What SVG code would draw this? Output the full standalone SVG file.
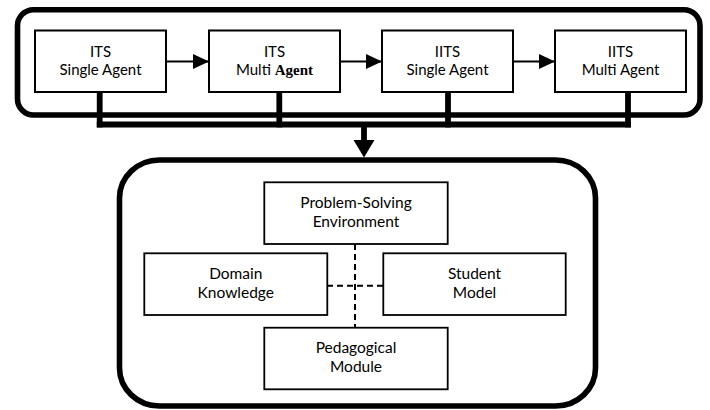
<svg xmlns="http://www.w3.org/2000/svg" width="710" height="410" viewBox="0 0 710 410">
  <defs>
    <marker id="arrow" markerUnits="userSpaceOnUse" markerWidth="16" markerHeight="16" viewBox="0 0 16 16" refX="16" refY="8" orient="auto">
      <path d="M0,0.5 L16,8 L0,15.5 Z" fill="#000"/>
    </marker>
  </defs>
  <style>
    .frame { fill: none; stroke: #000; stroke-width: 5.6; }
    .box { fill: #fff; stroke: #000; stroke-width: 2; }
    .ibox { fill: #fff; stroke: #000; stroke-width: 1.8; }
    .label { font-family: Lato, "Open Sans", sans-serif; font-size: 15px; fill: #000; text-anchor: middle; }
    .wide { font-size: 15.5px; }
    .bold { font-family: "Liberation Serif", "DejaVu Serif", serif; font-weight: bold; }
    .flow { stroke: #000; stroke-width: 2; fill: none; }
    .bus { stroke: #000; stroke-width: 5.8; fill: none; }
    .dash { stroke: #000; stroke-width: 2; stroke-dasharray: 6 4; fill: none; }
  </style>

  <rect fill="#fff" x="0" y="0" width="710" height="410"/>

  <!-- upper container -->
  <rect id="its-frame" class="frame" x="17.5" y="9.7" width="682.5" height="105.3" rx="16" ry="16"/>

  <!-- lower container -->
  <rect id="component-frame" class="frame" x="119.5" y="160" width="476" height="246" rx="40" ry="38"/>

  <!-- connectors -->
  <g id="connectors">
    <line class="flow" x1="166" y1="61.5" x2="209" y2="61.5" marker-end="url(#arrow)"/>
    <line class="flow" x1="340" y1="61.5" x2="382" y2="61.5" marker-end="url(#arrow)"/>
    <line class="flow" x1="513" y1="61.5" x2="555" y2="61.5" marker-end="url(#arrow)"/>
    <!-- bus collecting every generation -->
    <line class="bus" x1="99.7" y1="92" x2="99.7" y2="127.4"/>
    <line class="bus" x1="279.3" y1="92" x2="279.3" y2="127.4"/>
    <line class="bus" x1="448" y1="92" x2="448" y2="127.4"/>
    <line class="bus" x1="628" y1="92" x2="628" y2="127.4"/>
    <line class="bus" x1="96.8" y1="124.5" x2="630.9" y2="124.5"/>
    <line class="bus" x1="364" y1="124.5" x2="364" y2="142"/>
    <path d="M353.5,140 L374.5,140 L364,157.5 Z" fill="#000"/>
    <!-- dashed links between components -->
    <line class="dash" x1="355" y1="244" x2="355" y2="328"/>
    <line class="dash" x1="327" y1="285.7" x2="383" y2="285.7"/>
  </g>

  <!-- top row -->
  <g id="its-single">
    <rect class="box" x="35" y="30.5" width="131" height="61.5"/>
    <text class="label" x="100.5" y="57.3">ITS</text>
    <text class="label" x="100.5" y="75.3">Single Agent</text>
  </g>
  <g id="its-multi">
    <rect class="box" x="209" y="30.5" width="131" height="61.5"/>
    <text class="label" x="274.5" y="57.3">ITS</text>
    <text class="label" x="274.5" y="75.3">Multi <tspan class="bold">Agent</tspan></text>
  </g>
  <g id="iits-single">
    <rect class="box" x="382" y="30.5" width="131" height="61.5"/>
    <text class="label" x="447.5" y="57.3">IITS</text>
    <text class="label" x="447.5" y="75.3">Single Agent</text>
  </g>
  <g id="iits-multi">
    <rect class="box" x="555" y="30.5" width="131" height="61.5"/>
    <text class="label" x="620.5" y="57.3">IITS</text>
    <text class="label" x="620.5" y="75.3">Multi Agent</text>
  </g>

  <!-- components -->
  <g id="problem-solving">
    <rect class="ibox" x="264.3" y="182.3" width="183.4" height="61.7"/>
    <text class="label wide" x="356" y="208.3">Problem-Solving</text>
    <text class="label wide" x="356" y="227.3">Environment</text>
  </g>
  <g id="domain-knowledge">
    <rect class="ibox" x="144.3" y="253.3" width="183" height="61.7"/>
    <text class="label wide" x="235.8" y="279.3">Domain</text>
    <text class="label wide" x="235.8" y="298.3">Knowledge</text>
  </g>
  <g id="student-model">
    <rect class="ibox" x="383.3" y="253.3" width="182.4" height="61.7"/>
    <text class="label wide" x="474.5" y="279.3">Student</text>
    <text class="label wide" x="474.5" y="298.3">Model</text>
  </g>
  <g id="pedagogical-module">
    <rect class="ibox" x="264.3" y="327.7" width="183.4" height="61.6"/>
    <text class="label wide" x="356" y="353.3">Pedagogical</text>
    <text class="label wide" x="356" y="372.3">Module</text>
  </g>
</svg>
